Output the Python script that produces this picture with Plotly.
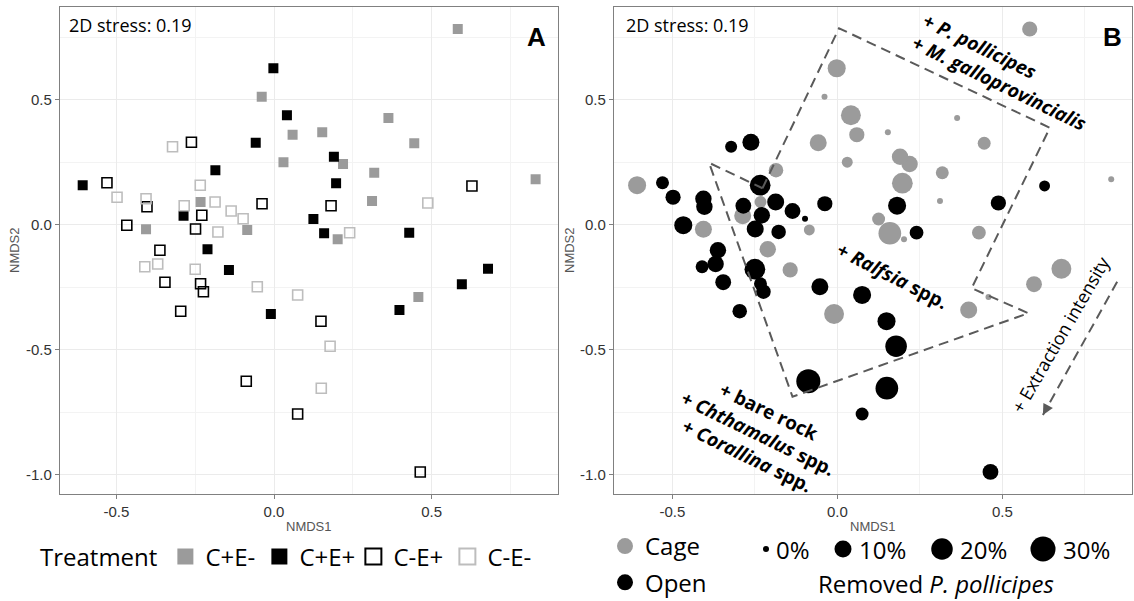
import numpy as np
import plotly.graph_objects as go

# ---------------- data: NMDS scores by treatment ----------------
treatments = ["C+E-", "C+E+", "C-E+", "C-E-"]

cem_x = [0.583, -0.039, 0.363, 0.059, 0.153, 0.445, 0.219, 0.030, 0.318, 0.830,
         -0.233, 0.311, -0.406, -0.085, 0.202, 0.458]
cem_y = [0.784, 0.513, 0.428, 0.361, 0.371, 0.327, 0.244, 0.251, 0.209, 0.183,
         0.092, 0.096, -0.017, -0.020, -0.057, -0.288]
cem_removed = [7, 0, 0, 7, 0, 4, 9, 2, 4, 0, 3, 0, 10, 2, 0, 0]

cep_x = [-0.002, 0.041, -0.058, 0.190, -0.186, -0.607, 0.197, -0.287, 0.125, 0.159,
         0.429, -0.211, -0.143, 0.679, 0.596, -0.010, 0.398]
cep_y = [0.627, 0.439, 0.329, 0.273, 0.219, 0.159, 0.167, 0.037, 0.024, -0.033,
         -0.031, -0.097, -0.180, -0.175, -0.237, -0.356, -0.340]
cep_removed = [12, 16, 10, 9, 6, 12, 18, 10, 4, 23, 5, 9, 7, 16, 8, 16, 10]

oep_x = [-0.262, -0.530, 0.628, -0.403, -0.038, 0.181, -0.229, -0.467, -0.249, -0.362,
         -0.346, -0.233, -0.224, -0.296, 0.149, -0.088, 0.075, 0.464]
oep_y = [0.331, 0.169, 0.156, 0.073, 0.085, 0.077, 0.039, -0.001, -0.016, -0.101,
         -0.229, -0.235, -0.267, -0.345, -0.385, -0.625, -0.756, -0.988]
oep_removed = [10, 4, 2, 9, 7, 12, 9, 12, 10, 9, 8, 4, 6, 6, 12, 27, 4, 8]

oem_x = [-0.322, -0.234, -0.498, -0.406, -0.285, -0.187, 0.488, -0.136, -0.098, -0.178,
         0.240, -0.410, -0.369, -0.250, -0.053, 0.075, 0.178, 0.150]
oem_y = [0.313, 0.159, 0.111, 0.105, 0.077, 0.092, 0.088, 0.056, 0.025, -0.028,
         -0.031, -0.167, -0.156, -0.177, -0.247, -0.280, -0.485, -0.653]
oem_removed = [3, 18, 7, 9, 8, 10, 7, 8, 0, 6, 5, 4, 9, 18, 10, 12, 20, 23]

size_breaks = [0, 10, 20, 30]
size_labels = ["0%", "10%", "20%", "30%"]
x_ticks = [-0.5, 0.0, 0.5]
y_ticks = [-1.0, -0.5, 0.0, 0.5]
minor_ticks = [-0.75, -0.25, 0.25, 0.75]
stress_text = "2D stress: 0.19"

# annotation geometry (panel B, NMDS units)
outline_x = [-0.227, 0.005, 0.644, 0.407, 0.579, -0.136, -0.389, -0.227]
outline_y = [0.147, 0.787, 0.389, -0.253, -0.353, -0.687, 0.249, 0.147]
arrow_x = [0.848, 0.623]
arrow_y = [-0.227, -0.760]

# ---------------- style ----------------
W, H = 1134, 601
GRAY = "#9B9B9B"
LIGHT = "#BDBDBD"
TXT = "Open Sans"
AX = "Liberation Sans"
DASH = "#5a5a5a"


def px_size(v):
    return 6 + 3.48 * np.sqrt(np.asarray(v, dtype=float))


fig = go.Figure()

# ---- panel A ----
styleA = {
    "C+E-": dict(symbol="square", color=GRAY, line=dict(width=0)),
    "C+E+": dict(symbol="square", color="black", line=dict(width=0)),
    "C-E+": dict(symbol="square-open", color="black", line=dict(width=1.6, color="black")),
    "C-E-": dict(symbol="square-open", color=LIGHT, line=dict(width=1.6, color=LIGHT)),
}
dataA = {"C+E-": (cem_x, cem_y), "C+E+": (cep_x, cep_y),
         "C-E+": (oep_x, oep_y), "C-E-": (oem_x, oem_y)}
for t in treatments:
    xs, ys = dataA[t]
    st = styleA[t]
    fig.add_trace(go.Scatter(x=xs, y=ys, mode="markers", xaxis="x", yaxis="y",
                             marker=dict(symbol=st["symbol"], size=10, color=st["color"], line=st["line"]),
                             name=t, showlegend=False))
for t in treatments:
    st = styleA[t]
    lw = st["line"].get("width", 0)
    fig.add_trace(go.Scatter(x=[None], y=[None], mode="markers", xaxis="x", yaxis="y",
                             marker=dict(symbol=st["symbol"], size=16, color=st["color"],
                                         line=dict(width=2 if lw else 0, color=st["color"])),
                             name=t, legend="legend", showlegend=True))

# ---- panel B ----
cage_x = cem_x + cep_x
cage_y = cem_y + cep_y
cage_r = cem_removed + cep_removed
open_x = oep_x + oem_x
open_y = oep_y + oem_y
open_r = oep_removed + oem_removed

fig.add_trace(go.Scatter(x=cage_x, y=cage_y, mode="markers", xaxis="x2", yaxis="y2",
                         marker=dict(size=px_size(cage_r), color=GRAY, opacity=1, line=dict(width=0)),
                         name="Cage", showlegend=False))
fig.add_trace(go.Scatter(x=open_x, y=open_y, mode="markers", xaxis="x2", yaxis="y2",
                         marker=dict(size=px_size(open_r), color="black", opacity=1, line=dict(width=0)),
                         name="Open", showlegend=False))
for nm, col in [("Cage", GRAY), ("Open", "black")]:
    fig.add_trace(go.Scatter(x=[None], y=[None], mode="markers", xaxis="x2", yaxis="y2",
                             marker=dict(size=16, color=col), name=nm, legend="legend2",
                             legendgroup=nm, showlegend=True))

fig.add_trace(go.Scatter(x=outline_x, y=outline_y, mode="lines", xaxis="x2", yaxis="y2",
                         line=dict(color=DASH, width=2, dash="10px,6px"),
                         showlegend=False, hoverinfo="skip"))
fig.add_trace(go.Scatter(x=arrow_x, y=arrow_y, mode="lines", xaxis="x2", yaxis="y2",
                         line=dict(color=DASH, width=2, dash="10px,6px"),
                         showlegend=False, hoverinfo="skip"))

# ---- size legend (overlay axis in pixel units) ----
size_leg_x = [766, 843, 942, 1043]
size_leg_y = [549, 549, 549, 549]
fig.add_trace(go.Scatter(x=size_leg_x, y=size_leg_y, mode="markers", xaxis="x3", yaxis="y3",
                         marker=dict(size=px_size(size_breaks), color="black", opacity=1,
                                     line=dict(width=0)),
                         showlegend=False, hoverinfo="skip"))

# ---------------- axes ----------------
def axis_common():
    return dict(showline=True, mirror=True, linecolor="#808080", linewidth=1.3,
                ticks="outside", ticklen=4, tickcolor="#808080", tickwidth=1,
                showgrid=True, gridcolor="#EBEBEB", gridwidth=1.1, zeroline=False,
                tickfont=dict(family=AX, size=15, color="#333333"),
                minor=dict(tickvals=minor_ticks, showgrid=True, gridcolor="#F3F3F3",
                           gridwidth=0.7, ticks=""))

ydom = [1 - 494.2 / H, 1 - 6.75 / H]
fmt = lambda v: f"{v:.1f}"

fig.update_layout(
    xaxis=dict(domain=[60 / W, 558.3 / W], range=[-0.679, 0.902], anchor="y",
               tickvals=x_ticks, ticktext=[fmt(v) for v in x_ticks], **axis_common()),
    yaxis=dict(domain=ydom, range=[-1.077, 0.873], anchor="x",
               tickvals=y_ticks, ticktext=[fmt(v) for v in y_ticks], **axis_common()),
    xaxis2=dict(domain=[614 / W, 1132 / W], range=[-0.677, 0.893], anchor="y2",
                tickvals=x_ticks, ticktext=[fmt(v) for v in x_ticks], **axis_common()),
    yaxis2=dict(domain=ydom, range=[-1.077, 0.873], anchor="x2",
                tickvals=y_ticks, ticktext=[fmt(v) for v in y_ticks], **axis_common()),
    xaxis3=dict(domain=[0, 1], range=[0, W], anchor="y3", visible=False, fixedrange=True),
    yaxis3=dict(domain=[0, 1], range=[H, 0], anchor="x3", visible=False, fixedrange=True),
)

# ---------------- annotations ----------------
ann = []


def pa(xp, yp, text, font, **kw):
    d = dict(x=xp / W, y=1 - yp / H, xref="paper", yref="paper", text=text, showarrow=False,
             xanchor="center", yanchor="middle", font=font)
    d.update(kw)
    return d


axt = dict(family=AX, size=13, color="#555555")
for xc in [(60 + 558.3) / 2, (614 + 1132) / 2]:
    ann.append(pa(xc, 526, "NMDS1", axt))
for xc in [14, 569]:
    ann.append(pa(xc, 250, "NMDS2", axt, textangle=-90))
for xl in [67, 624]:
    ann.append(pa(xl, 25, stress_text, dict(family=TXT, size=18, color="black"), xanchor="left"))
ann.append(pa(536, 37, "<b>A</b>", dict(family=AX, size=26, color="black")))
ann.append(pa(1112, 37, "<b>B</b>", dict(family=AX, size=26, color="black")))

bold = dict(family=TXT, size=19, color="black")
ann.append(dict(x=0.508, y=0.608, xref="x2", yref="y2", textangle=26, align="left",
                xanchor="center", yanchor="middle",
                text="<b>+ <i>P. pollicipes</i><br>+ <i>M. galloprovincialis</i></b>",
                showarrow=False, font=bold))
ann.append(dict(x=0.168, y=-0.203, xref="x2", yref="y2", textangle=27,
                xanchor="center", yanchor="middle",
                text="<b>+ <i>Ralfsia</i> spp.</b>", showarrow=False, font=bold))
ann.append(dict(x=-0.24, y=-0.835, xref="x2", yref="y2", textangle=26, align="center",
                xanchor="center", yanchor="middle",
                text="<b>+ bare rock<br>+ <i>Chthamalus</i> spp.<br>+ <i>Corallina</i> spp.</b>",
                showarrow=False, font=bold))
ann.append(dict(x=0.677, y=-0.437, xref="x2", yref="y2", textangle=-60,
                xanchor="center", yanchor="middle",
                text="+ Extraction intensity", showarrow=False,
                font=dict(family=TXT, size=18, color="black")))
ann.append(dict(x=arrow_x[1], y=arrow_y[1], xref="x2", yref="y2", text="", showarrow=True,
                ax=5.5, ay=-10.0, arrowhead=2, arrowsize=1.2, arrowwidth=1.8, arrowcolor=DASH))

legf = dict(family=TXT, size=24, color="black")
for xs, b, lab in zip(size_leg_x, size_breaks, size_labels):
    r = float(px_size([b])[0]) / 2
    ann.append(pa(xs + r + 5, 549, lab, legf, xanchor="left"))
ann.append(pa(936, 583, "Removed <i>P. pollicipes</i>", legf))

fig.update_layout(
    annotations=ann,
    width=W, height=H,
    margin=dict(l=0, r=0, t=0, b=0, pad=0, autoexpand=False),
    paper_bgcolor="white", plot_bgcolor="rgba(0,0,0,0)",
    legend=dict(orientation="h", x=38 / W, y=1 - 557 / H, xanchor="left", yanchor="middle",
                title=dict(text="Treatment", side="left", font=legf),
                font=legf, itemwidth=30, entrywidth=49, entrywidthmode="pixels",
                bgcolor="rgba(0,0,0,0)", itemsizing="trace"),
    legend2=dict(orientation="v", x=605 / W, y=1 - 524 / H, xanchor="left", yanchor="top",
                 font=legf, tracegroupgap=2,
                 bgcolor="rgba(0,0,0,0)", itemsizing="trace"),
    hovermode=False,
)

fig.write_html("out.html", config={"displayModeBar": False},
               post_script="document.body.style.margin='0px';")
